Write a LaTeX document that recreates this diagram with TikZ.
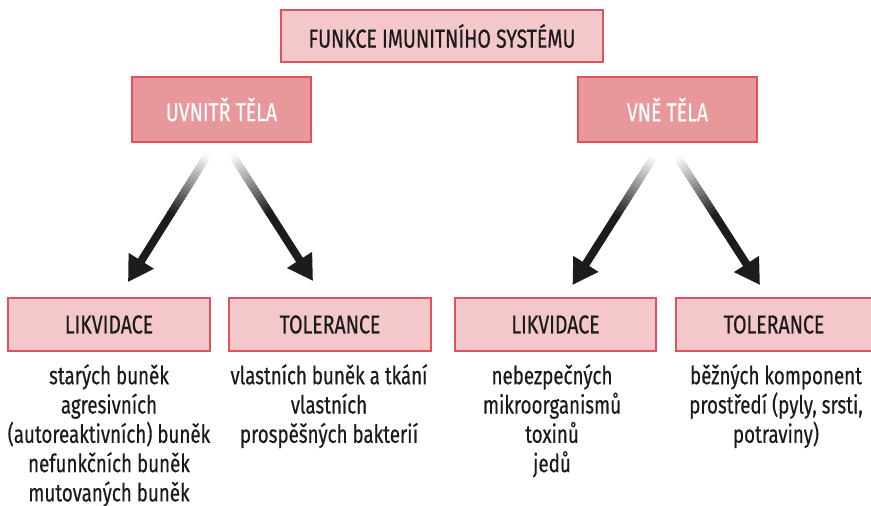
\documentclass[tikz,border=0pt]{standalone}
\usepackage{fontspec}
\setmainfont[FakeStretch=0.75,FakeBold=0.4]{Fira Sans}
\usetikzlibrary{arrows.meta,calc}
\definecolor{edgec}{HTML}{E0535E}
\definecolor{lightpink}{HTML}{F4C7CA}
\definecolor{darkpink}{HTML}{E8979B}
\definecolor{arrowc}{HTML}{1C1C1C}
\definecolor{textc}{HTML}{1A1A1A}
\tikzset{
 box/.style={draw=edgec, line width=2pt, fill=lightpink, text=textc, font=\fontsize{26}{30}\selectfont, inner sep=0pt},
 darkbox/.style={box, fill=darkpink, text=white},
 body/.style={align=center, anchor=north, inner sep=0pt, text=textc, font=\fontsize{25}{29.3}\selectfont},
}
\newcommand\fadearrow[2]{%
  \foreach \i [evaluate=\i as \ta using \i/40, evaluate=\i as \tb using (\i+1.4)/40, evaluate=\i as \c using 4+92*\i/17] in {0,...,17}
    \draw[line width=8pt, arrowc!\c] ($(#1)!\ta!(#2)$) -- ($(#1)!\tb!(#2)$);
  \draw[line width=8pt, arrowc, -{Triangle[length=25pt,width=28pt]}] ($(#1)!0.45!(#2)$) -- (#2);
}
\begin{document}
\begin{tikzpicture}[x=1pt,y=-1pt]
\useasboundingbox (0,0) rectangle (871,506);
\node[box, minimum width=322pt, minimum height=52pt] (top) at (442,36) {FUNKCE IMUNITNÍHO SYSTÉMU};
\node[darkbox, minimum width=179pt, minimum height=65pt] (uv) at (221.5,109.5) {UVNITŘ TĚLA};
\node[darkbox, minimum width=179pt, minimum height=65pt] (vne) at (667.5,109.5) {VNĚ TĚLA};
\node[box, minimum width=202pt, minimum height=53pt] (lik1) at (109,324.5) {LIKVIDACE};
\node[box, minimum width=202pt, minimum height=53pt] (tol1) at (330,324.5) {TOLERANCE};
\node[box, minimum width=201pt, minimum height=53pt] (lik2) at (555.5,324.5) {LIKVIDACE};
\node[box, minimum width=196pt, minimum height=53pt] (tol2) at (774,324.5) {TOLERANCE};

\node[body] (b1) at (109,364) {starých buněk\\agresivních\\(autoreaktivních) buněk\\nefunkčních buněk\\mutovaných buněk};
\node[body] (b2) at (329,364) {vlastních buněk a tkání\\vlastních\\prospěšných bakterií};
\node[body] (b3) at (552,364) {nebezpečných\\mikroorganismů\\toxinů\\jedů};
\node[body] (b4) at (776,364) {běžných komponent\\prostředí (pyly, srsti,\\potraviny)};

\coordinate (s1) at ($(uv.south)+(-14.5,13)$);
\coordinate (e1) at ($(lik1.north)+(19,-15)$);
\coordinate (s2) at ($(uv.south)+(11.5,13)$);
\coordinate (e2) at ($(tol1.north)+(-17,-16)$);
\coordinate (s3) at ($(vne.south)+(-14.5,15)$);
\coordinate (e3) at ($(lik2.north)+(17,-12)$);
\coordinate (s4) at ($(vne.south)+(10.5,15)$);
\coordinate (e4) at ($(tol2.north)+(-14,-12)$);
\fadearrow{s1}{e1}
\fadearrow{s2}{e2}
\fadearrow{s3}{e3}
\fadearrow{s4}{e4}
\end{tikzpicture}
\end{document}
